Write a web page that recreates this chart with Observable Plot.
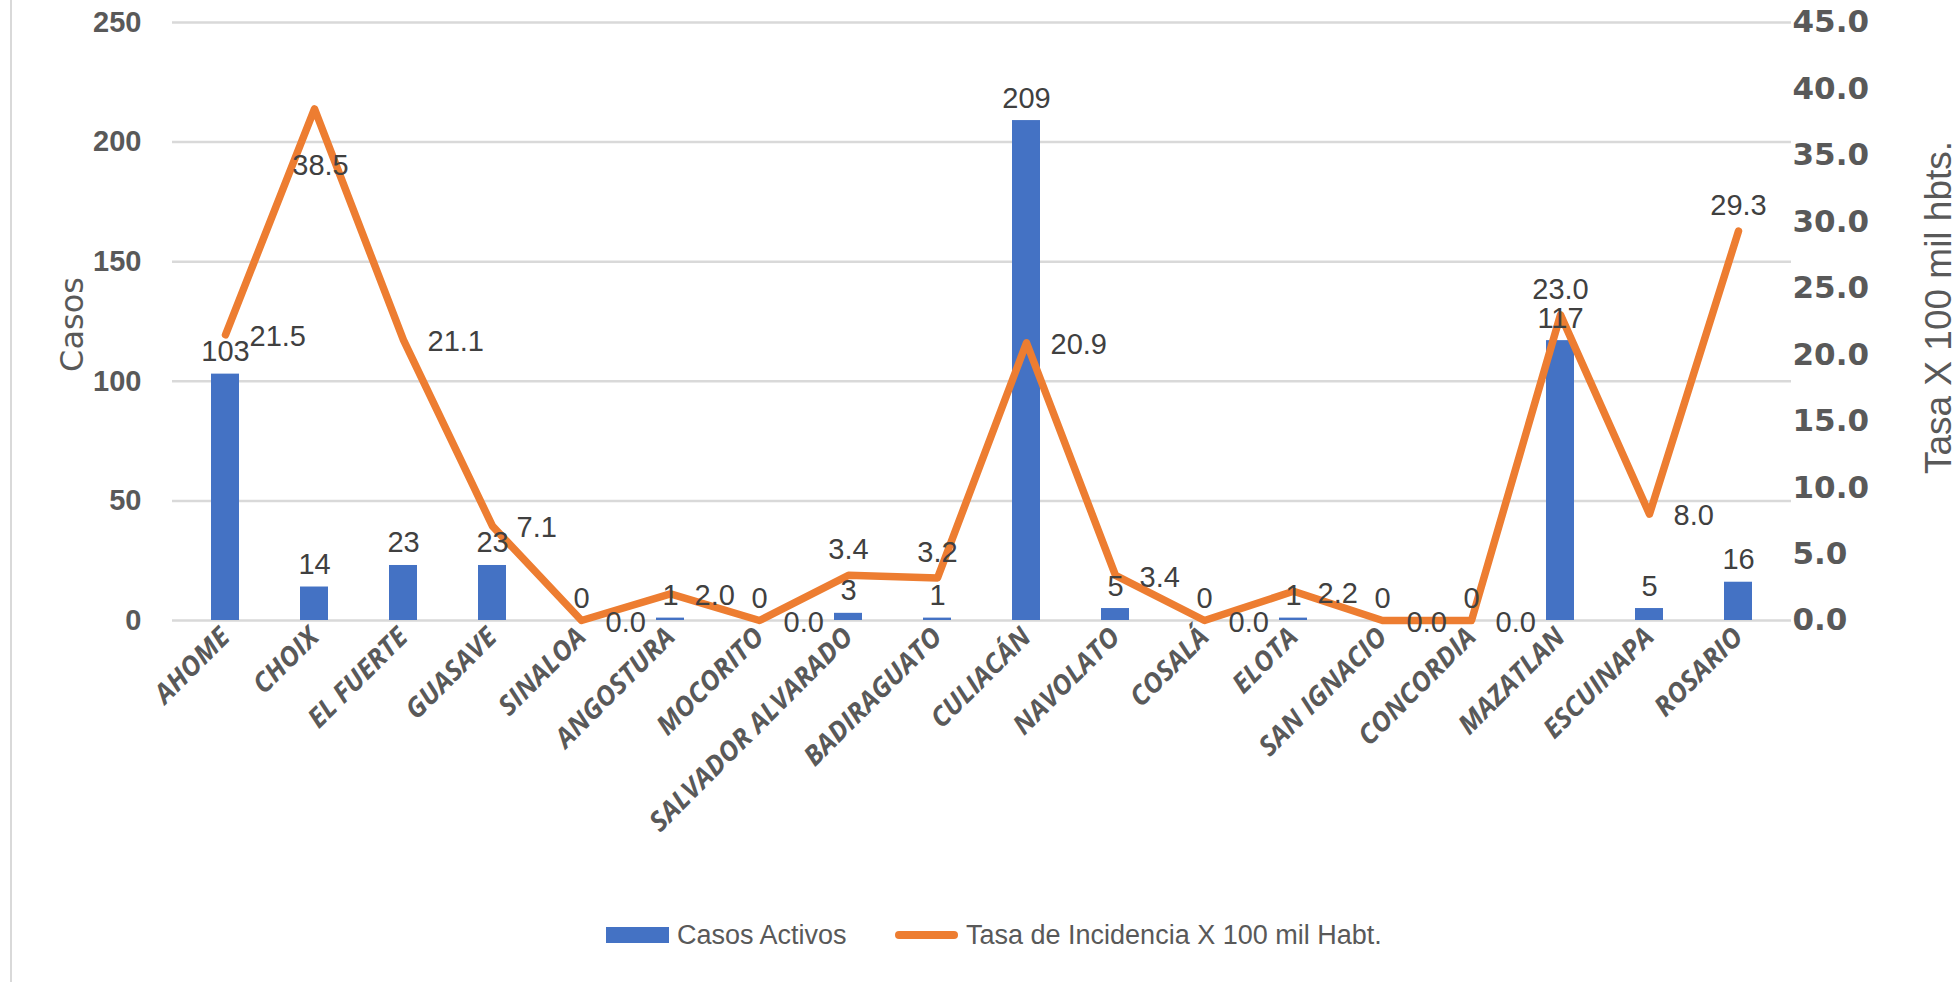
<!DOCTYPE html>
<html>
<head>
<meta charset="utf-8">
<script src="https://cdn.jsdelivr.net/npm/d3@7"></script>
<script src="https://cdn.jsdelivr.net/npm/@observablehq/plot@0.6"></script>
<style>
  body { margin: 0; background: #fff; }
  #wrap { position: relative; width: 1959px; height: 982px; overflow: hidden; background: #fff; }
  #frame { position: absolute; left: 10px; top: 0; width: 2px; height: 982px; background: #d9d9d9; }
  #chart { position: absolute; left: 0; top: 0; }
  #legend { position: absolute; left: 0; top: 910px; width: 1959px; height: 50px;
    font-family: 'Liberation Sans', sans-serif; font-size: 27px; color: #595959; }
  .item { position: absolute; top: 0; height: 50px; display: flex; align-items: center; }
  .swatch-bar { width: 63px; height: 16px; background: #4472C4; margin-right: 8px; }
  .swatch-line { width: 63px; height: 8px; border-radius: 4px; background: #ED7D31; margin-right: 8px; }
</style>
</head>
<body>
<div id="wrap">
  <div id="frame"></div>
  <div id="chart"></div>
  <div id="legend">
    <div class="item" style="left:606px"><div class="swatch-bar"></div><span>Casos Activos</span></div>
    <div class="item" style="left:895px"><div class="swatch-line"></div><span>Tasa de Incidencia X 100 mil Habt.</span></div>
  </div>
</div>
<script>
const municipios = ["AHOME", "CHOIX", "EL FUERTE", "GUASAVE", "SINALOA", "ANGOSTURA", "MOCORITO",
  "SALVADOR ALVARADO", "BADIRAGUATO", "CULIACÁN", "NAVOLATO", "COSALÁ", "ELOTA", "SAN IGNACIO",
  "CONCORDIA", "MAZATLAN", "ESCUINAPA", "ROSARIO"];
const casosActivos = [103, 14, 23, 23, 0, 1, 0, 3, 1, 209, 5, 0, 1, 0, 0, 117, 5, 16];
const tasaIncidencia = [21.5, 38.5, 21.1, 7.1, 0.0, 2.0, 0.0, 3.4, 3.2, 20.9, 3.4, 0.0, 2.2, 0.0, 0.0, 23.0, 8.0, 29.3];
const casosTicks = [0, 50, 100, 150, 200, 250];
const tasaTicks = [0, 5, 10, 15, 20, 25, 30, 35, 40, 45];
// placement of each rate label relative to its point (as in the Excel original)
const tasaLabelPos = ["right", "below", "right", "right", "right", "right", "right", "above", "above", "right",
  "right", "right", "right", "right", "right", "above", "right", "above"];

const casosMax = casosTicks[casosTicks.length - 1];
const tasaMax = tasaTicks[tasaTicks.length - 1];
const k = casosMax / tasaMax;

const rows = municipios.map((m, i) => ({
  municipio: m,
  casos: casosActivos[i],
  tasa: tasaIncidencia[i],
  tasaScaled: tasaIncidencia[i] * k,
  pos: tasaLabelPos[i]
}));

const sans = "'Liberation Sans', sans-serif";
const labelStyle = { x: "municipio", y: "tasaScaled", text: d => d.tasa.toFixed(1), fontSize: 29, fill: "#404040" };

const chart = Plot.plot({
  width: 1959,
  height: 880,
  marginTop: 22,
  marginBottom: 260,
  marginLeft: 172,
  marginRight: 168,
  style: { fontFamily: sans, color: "#595959", background: "transparent" },
  x: { domain: municipios, paddingInner: 0.68, paddingOuter: 0.34, axis: null },
  y: { domain: [0, casosMax], axis: null },
  marks: [
    Plot.gridY(casosTicks, { stroke: "#d9d9d9", strokeOpacity: 1, strokeWidth: 2.5 }),
    Plot.axisY(casosTicks, { anchor: "left", tickSize: 0, tickPadding: 31, fontSize: 29, fontWeight: "bold", label: null }),
    Plot.axisY(tasaTicks.map(v => v * k), { anchor: "right", tickSize: 0, tickPadding: 1,
      tickFormat: d => (d / k).toFixed(1), fontFamily: "'DejaVu Sans', sans-serif", fontWeight: "bold", fontSize: 31, label: null }),
    Plot.axisX({ tickSize: 0, tickPadding: 12, tickRotate: -45, fontFamily: "'Open Sans', sans-serif",
      fontStyle: "italic", fontWeight: "bold", fontSize: 27, label: null }),
    Plot.barY(rows, { x: "municipio", y: "casos", fill: "#4472C4" }),
    Plot.lineY(rows, { x: "municipio", y: "tasaScaled", stroke: "#ED7D31", strokeWidth: 7.5, strokeLinejoin: "round", strokeLinecap: "round" }),
    Plot.text(rows, { x: "municipio", y: "casos", text: d => String(d.casos), lineAnchor: "bottom", dy: -13, fontSize: 29, fill: "#404040" }),
    Plot.text(rows.filter(d => d.pos === "right"), { ...labelStyle, textAnchor: "start", dx: 24, dy: 2 }),
    Plot.text(rows.filter(d => d.pos === "above"), { ...labelStyle, lineAnchor: "bottom", dy: -16 }),
    Plot.text(rows.filter(d => d.pos === "below"), { ...labelStyle, lineAnchor: "top", dx: 6, dy: 46 }),
    Plot.text(["Casos"], { frameAnchor: "left", textAnchor: "middle", dx: -100, dy: 3, rotate: -90,
      fontFamily: "'DejaVu Sans', sans-serif", fontSize: 32, fill: "#595959" }),
    Plot.text(["Tasa X 100 mil hbts."], { frameAnchor: "right", textAnchor: "middle", dx: 148, dy: -14, rotate: -90,
      fontFamily: sans, fontSize: 37, fill: "#595959" })
  ]
});
document.getElementById("chart").appendChild(chart);
</script>
</body>
</html>
